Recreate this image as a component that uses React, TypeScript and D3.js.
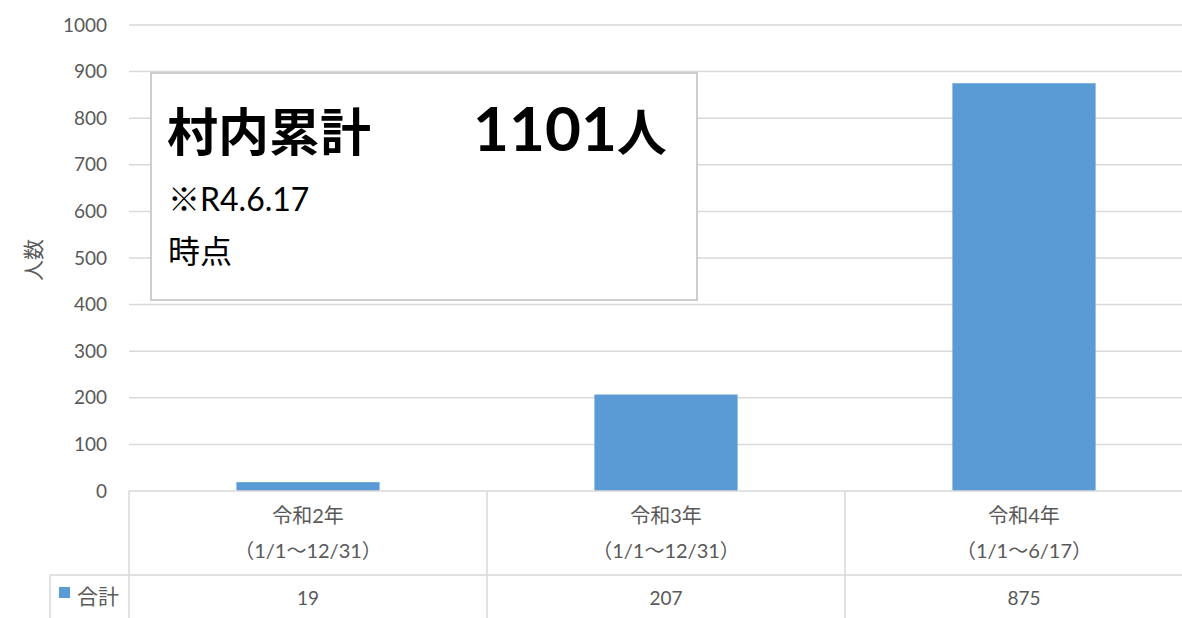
import React from "react";
import * as d3 from "d3";

const categories = ["令和2年", "令和3年", "令和4年"];
const periods = ["（1/1～12/31）", "（1/1～12/31）", "（1/1～6/17）"];
const totals = [19, 207, 875];
const yTicks = [0, 100, 200, 300, 400, 500, 600, 700, 800, 900, 1000];
const seriesName = "合計";

const W = 1182;
const H = 618;
const FONT = "Lato, 'Noto Sans CJK JP', sans-serif";
const GREY = "#595959";
const GRID = "#d9d9d9";
const BAR = "#5b9bd5";

export default function App() {
  const left = 129;
  const top = 25;
  const bottom = 491;
  const catW = 358;

  const y = d3.scaleLinear().domain([0, 1000]).range([bottom, top]);
  const x = d3
    .scaleBand()
    .domain(categories)
    .range([left, left + catW * categories.length])
    .padding(0);
  const barW = x.bandwidth() * 0.4;
  const rowY = 575;

  return (
    <div>
      <style>{`body{margin:0;}`}</style>
      <svg width={W} height={H} style={{ display: "block", fontFamily: FONT }}>
        <rect width={W} height={H} fill="#fff" />

        {/* grid + ticks */}
        {yTicks.map((t) => (
          <g key={t}>
            {t > 0 && (
              <line x1={left} x2={W} y1={y(t)} y2={y(t)} stroke={GRID} strokeWidth={1.5} />
            )}
            <text x={107} y={y(t)} dy="0.35em" textAnchor="end" fontSize={19} fill={GREY}>
              {t}
            </text>
          </g>
        ))}

        <text
          transform={`translate(34,260) rotate(-90)`}
          textAnchor="middle"
          dy="0.35em"
          fontSize={21}
          fill={GREY}
        >
          人数
        </text>

        {/* bars */}
        {totals.map((v, i) => (
          <rect
            key={i}
            x={x(categories[i])! + (x.bandwidth() - barW) / 2}
            y={y(v)}
            width={barW}
            height={y(0) - y(v)}
            fill={BAR}
          />
        ))}

        {/* data table */}
        <line x1={left} x2={W} y1={bottom} y2={bottom} stroke={GRID} strokeWidth={1.5} />
        <line x1={50} x2={W} y1={rowY} y2={rowY} stroke={GRID} strokeWidth={1.5} />
        <line x1={50} x2={50} y1={rowY} y2={H} stroke={GRID} strokeWidth={1.5} />
        {categories.map((c) => (
          <line
            key={c + "l"}
            x1={x(c)!}
            x2={x(c)!}
            y1={bottom}
            y2={H}
            stroke={GRID}
            strokeWidth={1.5}
          />
        ))}
        {categories.map((c, i) => {
          const cx = x(c)! + x.bandwidth() / 2;
          return (
            <g key={c} fill={GREY} textAnchor="middle">
              <text x={cx} y={516} dy="0.35em" fontSize={20}>{c}</text>
              <text x={cx} y={551} dy="0.35em" fontSize={20}>{periods[i]}</text>
              <text x={cx} y={598} dy="0.35em" fontSize={19}>{totals[i]}</text>
            </g>
          );
        })}
        <rect x={59} y={587} width={11} height={11} fill={BAR} />
        <text x={77} y={597} dy="0.35em" fontSize={21} fill={GREY}>
          {seriesName}
        </text>

        {/* annotation box */}
        <rect x={151} y={73} width={546} height={227} fill="#fff" stroke="#bfbfbf" strokeWidth={1.5} />
        <text x={167} y={151} fontSize={51} fontWeight="bold" fill="#000">
          村内累計
        </text>
        <text x={473} y={151} fontWeight="bold" fill="#000">
          <tspan fontSize={62}>1101</tspan>
          <tspan fontSize={50}>人</tspan>
        </text>
        <text x={168} y={211} fontSize={32} fill="#000">
          ※R4.6.17
        </text>
        <text x={168} y={263} fontSize={32} fill="#000">
          時点
        </text>
      </svg>
    </div>
  );
}
